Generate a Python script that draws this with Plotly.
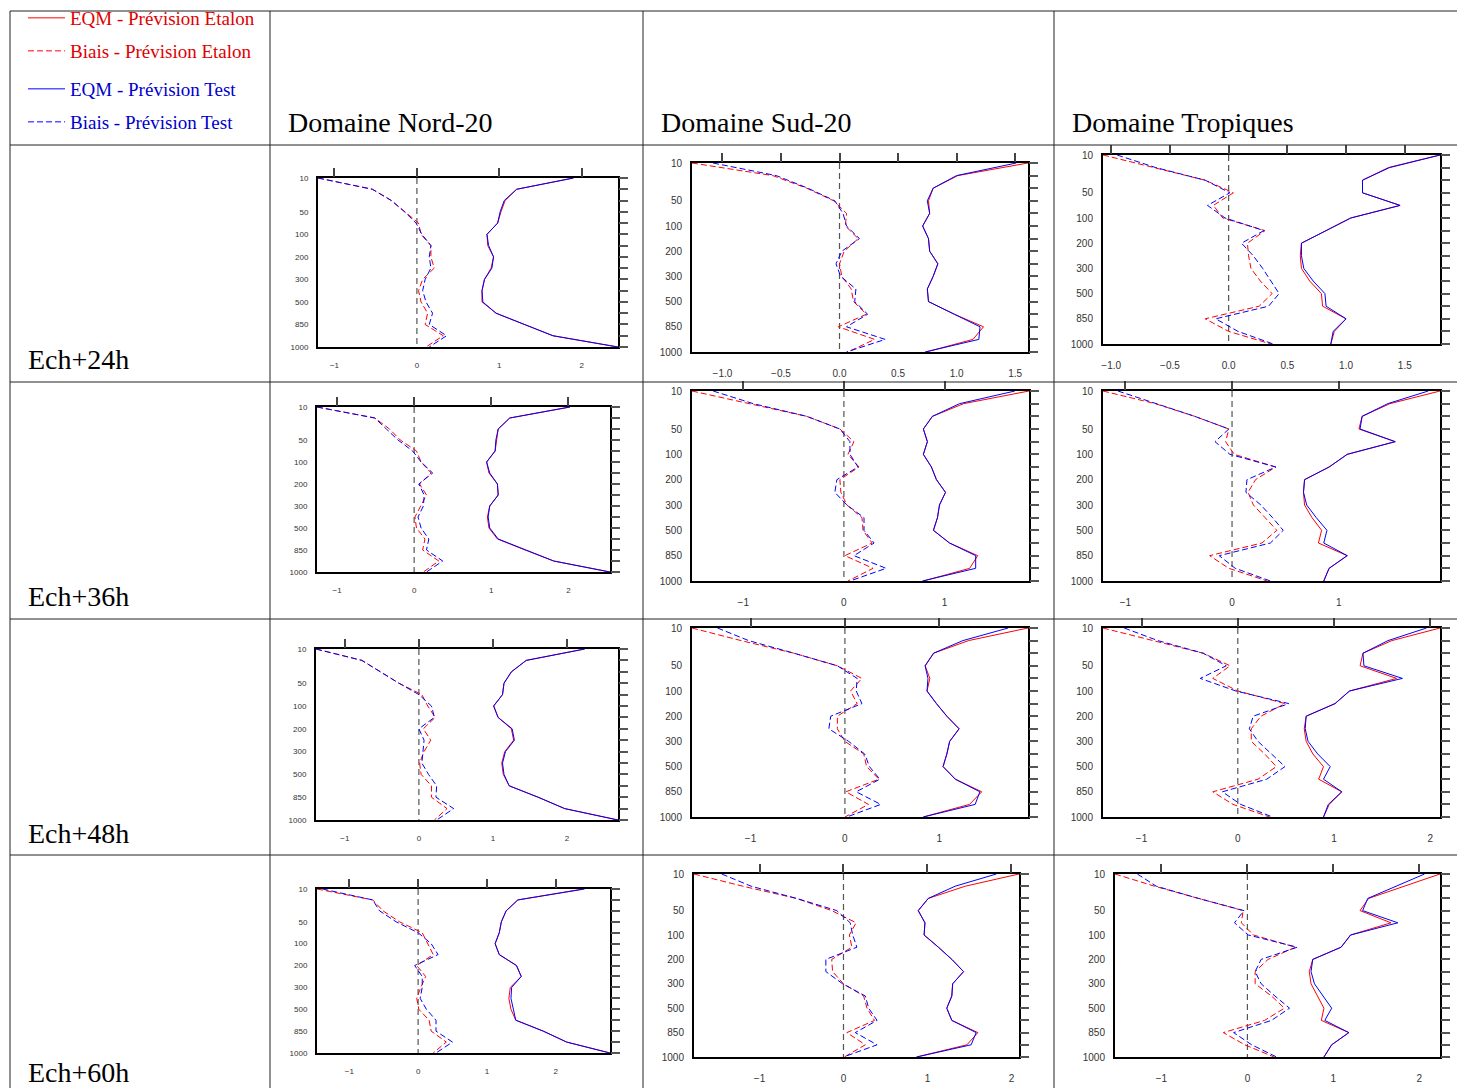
import math
import plotly.graph_objects as go

# ---------------- data ----------------
LEVELS = [10, 20, 30, 50, 70, 100, 150, 200, 250, 300, 400, 500, 700, 850, 925, 1000]
LABELED_LEVELS = [10, 50, 100, 200, 300, 500, 850, 1000]
DOMAINES = ["Domaine Nord-20", "Domaine Sud-20", "Domaine Tropiques"]
ECHEANCES = ["Ech+24h", "Ech+36h", "Ech+48h", "Ech+60h"]
SERIES = ["EQM - Prévision Etalon", "Biais - Prévision Etalon",
          "EQM - Prévision Test", "Biais - Prévision Test"]

# Nord-20, Ech+24h
NORD24_EQM_ETALON = [1.90, 1.21, 1.07, 1.02, 0.98, 0.85, 0.86, 0.93, 0.90, 0.82, 0.79, 0.79, 0.96, 1.31, 1.65, 2.44]
NORD24_EQM_TEST = [1.90, 1.21, 1.06, 1.01, 0.98, 0.85, 0.87, 0.93, 0.91, 0.82, 0.79, 0.80, 0.96, 1.31, 1.65, 2.44]
NORD24_BIAIS_ETALON = [-1.20, -0.54, -0.31, -0.15, 0.02, 0.05, 0.17, 0.17, 0.21, 0.07, 0.02, 0.05, 0.13, 0.10, 0.32, 0.11]
NORD24_BIAIS_TEST = [-1.20, -0.54, -0.31, -0.15, -0.01, 0.06, 0.17, 0.15, 0.17, 0.10, 0.07, 0.11, 0.19, 0.15, 0.36, 0.15]
# Sud-20, Ech+24h
SUD24_EQM_ETALON = [1.61, 1.01, 0.80, 0.76, 0.77, 0.71, 0.76, 0.77, 0.84, 0.80, 0.75, 0.76, 0.98, 1.23, 1.14, 0.74]
SUD24_EQM_TEST = [1.51, 1.00, 0.80, 0.75, 0.77, 0.71, 0.76, 0.77, 0.84, 0.80, 0.75, 0.76, 0.98, 1.20, 1.19, 0.73]
SUD24_BIAIS_ETALON = [-1.26, -0.57, -0.28, -0.05, 0.06, 0.05, 0.16, 0.04, 0.00, 0.02, 0.10, 0.12, 0.23, -0.01, 0.30, 0.07]
SUD24_BIAIS_TEST = [-1.08, -0.54, -0.27, -0.04, 0.03, 0.06, 0.17, 0.02, -0.03, 0.01, 0.14, 0.13, 0.24, 0.06, 0.39, 0.06]
# Tropiques, Ech+24h
TROP24_EQM_ETALON = [1.80, 1.36, 1.14, 1.14, 1.46, 1.04, 0.83, 0.62, 0.61, 0.62, 0.69, 0.79, 0.80, 1.00, 0.90, 0.87]
TROP24_EQM_TEST = [1.80, 1.37, 1.14, 1.14, 1.46, 1.04, 0.83, 0.62, 0.62, 0.64, 0.72, 0.82, 0.83, 1.00, 0.89, 0.87]
TROP24_BIAIS_ETALON = [-1.07, -0.64, -0.20, 0.04, -0.13, -0.05, 0.31, 0.16, 0.17, 0.19, 0.27, 0.37, 0.26, -0.20, 0.00, 0.36]
TROP24_BIAIS_TEST = [-0.95, -0.62, -0.20, 0.01, -0.18, -0.03, 0.30, 0.11, 0.21, 0.29, 0.36, 0.43, 0.34, -0.11, 0.08, 0.38]
# Nord-20, Ech+36h
NORD36_EQM_ETALON = [2.02, 1.24, 1.09, 1.07, 1.05, 0.94, 0.97, 1.08, 1.09, 0.98, 0.95, 0.97, 1.08, 1.44, 1.81, 2.54]
NORD36_EQM_TEST = [2.02, 1.24, 1.09, 1.06, 1.05, 0.94, 0.98, 1.08, 1.09, 0.98, 0.96, 0.98, 1.09, 1.44, 1.81, 2.54]
NORD36_BIAIS_ETALON = [-1.26, -0.51, -0.32, -0.18, 0.03, 0.09, 0.22, 0.07, 0.16, 0.09, 0.01, 0.03, 0.14, 0.11, 0.32, 0.12]
NORD36_BIAIS_TEST = [-1.26, -0.51, -0.36, -0.21, -0.02, 0.09, 0.24, 0.06, 0.13, 0.12, 0.05, 0.09, 0.19, 0.16, 0.37, 0.16]
# Sud-20, Ech+36h
SUD36_EQM_ETALON = [1.84, 1.19, 0.88, 0.79, 0.83, 0.79, 0.87, 0.92, 1.01, 0.95, 0.93, 0.89, 1.05, 1.33, 1.25, 0.79]
SUD36_EQM_TEST = [1.70, 1.15, 0.88, 0.79, 0.83, 0.79, 0.87, 0.92, 1.01, 0.95, 0.93, 0.89, 1.05, 1.31, 1.31, 0.78]
SUD36_BIAIS_ETALON = [-1.51, -0.95, -0.37, -0.04, 0.10, 0.04, 0.15, -0.04, -0.03, 0.03, 0.18, 0.19, 0.28, 0.01, 0.29, 0.04]
SUD36_BIAIS_TEST = [-1.30, -0.90, -0.37, -0.04, 0.06, 0.06, 0.14, -0.07, -0.09, 0.03, 0.20, 0.20, 0.30, 0.10, 0.42, 0.06]
# Tropiques, Ech+36h
TROP36_EQM_ETALON = [1.95, 1.48, 1.22, 1.19, 1.53, 1.08, 0.91, 0.68, 0.67, 0.68, 0.75, 0.84, 0.81, 1.08, 0.91, 0.86]
TROP36_EQM_TEST = [1.84, 1.46, 1.22, 1.20, 1.53, 1.08, 0.91, 0.68, 0.67, 0.70, 0.79, 0.89, 0.86, 1.08, 0.91, 0.86]
TROP36_BIAIS_ETALON = [-1.21, -0.72, -0.35, -0.03, -0.06, 0.02, 0.41, 0.22, 0.15, 0.20, 0.31, 0.42, 0.28, -0.21, -0.03, 0.33]
TROP36_BIAIS_TEST = [-1.07, -0.70, -0.35, -0.03, -0.16, -0.02, 0.41, 0.14, 0.13, 0.27, 0.38, 0.48, 0.36, -0.12, 0.03, 0.36]
# Nord-20, Ech+48h
NORD48_EQM_ETALON = [2.24, 1.45, 1.25, 1.15, 1.13, 1.01, 1.07, 1.25, 1.28, 1.16, 1.12, 1.14, 1.22, 1.61, 1.97, 2.69]
NORD48_EQM_TEST = [2.24, 1.45, 1.25, 1.15, 1.13, 1.01, 1.07, 1.26, 1.29, 1.17, 1.13, 1.15, 1.22, 1.61, 1.97, 2.69]
NORD48_BIAIS_ETALON = [-1.39, -0.77, -0.52, -0.27, 0.04, 0.12, 0.22, 0.06, 0.16, 0.07, 0.01, 0.03, 0.17, 0.17, 0.38, 0.21]
NORD48_BIAIS_TEST = [-1.39, -0.77, -0.52, -0.27, 0.00, 0.17, 0.21, 0.00, 0.07, 0.05, 0.04, 0.13, 0.24, 0.23, 0.47, 0.24]
# Sud-20, Ech+48h
SUD48_EQM_ETALON = [1.94, 1.31, 0.94, 0.85, 0.90, 0.87, 0.97, 1.08, 1.21, 1.11, 1.08, 1.04, 1.17, 1.45, 1.32, 0.83]
SUD48_EQM_TEST = [1.73, 1.25, 0.94, 0.85, 0.88, 0.87, 0.97, 1.08, 1.21, 1.11, 1.08, 1.04, 1.17, 1.43, 1.38, 0.83]
SUD48_BIAIS_ETALON = [-1.62, -1.10, -0.54, -0.08, 0.18, 0.06, 0.13, -0.08, -0.08, 0.00, 0.20, 0.23, 0.36, 0.01, 0.25, 0.00]
SUD48_BIAIS_TEST = [-1.35, -1.02, -0.54, -0.08, 0.13, 0.12, 0.18, -0.15, -0.17, 0.04, 0.21, 0.26, 0.37, 0.12, 0.38, 0.02]
# Tropiques, Ech+48h
TROP48_EQM_ETALON = [2.10, 1.60, 1.30, 1.27, 1.65, 1.16, 1.01, 0.71, 0.69, 0.71, 0.78, 0.89, 0.84, 1.08, 0.95, 0.89]
TROP48_EQM_TEST = [1.96, 1.56, 1.30, 1.31, 1.71, 1.16, 1.01, 0.71, 0.70, 0.73, 0.83, 0.96, 0.89, 1.08, 0.94, 0.89]
TROP48_BIAIS_ETALON = [-1.40, -0.87, -0.36, -0.08, -0.26, 0.00, 0.49, 0.24, 0.14, 0.14, 0.28, 0.40, 0.21, -0.26, -0.05, 0.33]
TROP48_BIAIS_TEST = [-1.18, -0.83, -0.36, -0.12, -0.39, -0.02, 0.53, 0.16, 0.12, 0.21, 0.35, 0.49, 0.30, -0.16, 0.03, 0.36]
# Nord-20, Ech+60h
NORD60_EQM_ETALON = [2.40, 1.45, 1.28, 1.21, 1.18, 1.12, 1.18, 1.43, 1.50, 1.34, 1.32, 1.35, 1.42, 1.82, 2.16, 2.79]
NORD60_EQM_TEST = [2.42, 1.45, 1.28, 1.21, 1.18, 1.12, 1.18, 1.43, 1.50, 1.36, 1.35, 1.38, 1.42, 1.82, 2.16, 2.79]
NORD60_BIAIS_ETALON = [-1.47, -0.66, -0.51, -0.27, 0.06, 0.14, 0.22, -0.02, 0.11, 0.04, -0.02, 0.01, 0.16, 0.19, 0.41, 0.22]
NORD60_BIAIS_TEST = [-1.39, -0.66, -0.56, -0.32, 0.00, 0.19, 0.29, -0.05, 0.06, 0.06, 0.03, 0.12, 0.26, 0.26, 0.50, 0.26]
# Sud-20, Ech+60h
SUD60_EQM_ETALON = [2.09, 1.45, 1.01, 0.89, 0.97, 0.96, 1.13, 1.29, 1.43, 1.30, 1.29, 1.23, 1.29, 1.60, 1.47, 0.87]
SUD60_EQM_TEST = [1.82, 1.33, 1.01, 0.89, 0.97, 0.96, 1.13, 1.29, 1.43, 1.30, 1.29, 1.23, 1.29, 1.58, 1.52, 0.87]
SUD60_BIAIS_ETALON = [-1.78, -1.20, -0.56, -0.14, 0.15, 0.07, 0.10, -0.14, -0.13, 0.00, 0.24, 0.28, 0.37, 0.04, 0.26, 0.01]
SUD60_BIAIS_TEST = [-1.45, -1.10, -0.56, -0.08, 0.08, 0.11, 0.16, -0.21, -0.21, -0.01, 0.26, 0.30, 0.40, 0.14, 0.40, 0.00]
# Tropiques, Ech+60h
TROP60_EQM_ETALON = [2.24, 1.83, 1.41, 1.31, 1.67, 1.20, 1.09, 0.76, 0.72, 0.74, 0.82, 0.89, 0.86, 1.18, 0.98, 0.89]
TROP60_EQM_TEST = [2.06, 1.73, 1.40, 1.34, 1.75, 1.20, 1.09, 0.76, 0.74, 0.78, 0.88, 0.98, 0.90, 1.18, 0.98, 0.89]
TROP60_BIAIS_ETALON = [-1.54, -1.08, -0.57, -0.05, -0.07, 0.07, 0.56, 0.24, 0.09, 0.09, 0.28, 0.43, 0.20, -0.28, -0.03, 0.31]
TROP60_BIAIS_TEST = [-1.28, -1.06, -0.57, -0.04, -0.15, 0.01, 0.58, 0.16, 0.09, 0.16, 0.32, 0.49, 0.28, -0.16, 0.05, 0.34]

# x-axis tick step per panel (tick labels)
TICK_STEP = [1, 0.5, 0.5, 1, 1, 1, 1, 1, 1, 1, 1, 1]

PANEL_DATA = [
    (NORD24_EQM_ETALON, NORD24_BIAIS_ETALON, NORD24_EQM_TEST, NORD24_BIAIS_TEST),
    (SUD24_EQM_ETALON, SUD24_BIAIS_ETALON, SUD24_EQM_TEST, SUD24_BIAIS_TEST),
    (TROP24_EQM_ETALON, TROP24_BIAIS_ETALON, TROP24_EQM_TEST, TROP24_BIAIS_TEST),
    (NORD36_EQM_ETALON, NORD36_BIAIS_ETALON, NORD36_EQM_TEST, NORD36_BIAIS_TEST),
    (SUD36_EQM_ETALON, SUD36_BIAIS_ETALON, SUD36_EQM_TEST, SUD36_BIAIS_TEST),
    (TROP36_EQM_ETALON, TROP36_BIAIS_ETALON, TROP36_EQM_TEST, TROP36_BIAIS_TEST),
    (NORD48_EQM_ETALON, NORD48_BIAIS_ETALON, NORD48_EQM_TEST, NORD48_BIAIS_TEST),
    (SUD48_EQM_ETALON, SUD48_BIAIS_ETALON, SUD48_EQM_TEST, SUD48_BIAIS_TEST),
    (TROP48_EQM_ETALON, TROP48_BIAIS_ETALON, TROP48_EQM_TEST, TROP48_BIAIS_TEST),
    (NORD60_EQM_ETALON, NORD60_BIAIS_ETALON, NORD60_EQM_TEST, NORD60_BIAIS_TEST),
    (SUD60_EQM_ETALON, SUD60_BIAIS_ETALON, SUD60_EQM_TEST, SUD60_BIAIS_TEST),
    (TROP60_EQM_ETALON, TROP60_BIAIS_ETALON, TROP60_EQM_TEST, TROP60_BIAIS_TEST),
]

# ---------------- layout geometry (pixels) ----------------
W, H = 1457, 1088
PANEL_BOX = [  # x0, x1, y0(top), y1(bottom)
    (318, 618, 178, 347), (692, 1028, 163, 352), (1103, 1440, 155, 344),
    (317, 610, 407, 572), (692, 1029, 391, 581), (1103, 1440, 391, 581),
    (316, 618, 649, 820), (692, 1028, 628, 817), (1103, 1440, 628, 817),
    (317, 610, 889, 1053), (694, 1019, 874, 1057), (1115, 1440, 874, 1057),
]

RED, BLUE = "#ff0000", "#0000ff"
STYLES = [(RED, "solid"), (RED, "6px,3px"), (BLUE, "solid"), (BLUE, "6px,3px")]
LEGENDS = ["legend", "legend2", "legend3", "legend4"]
SANS = "Liberation Sans, Arial, sans-serif"
SERIF = "Liberation Serif, Times New Roman, serif"

fig = go.Figure()
layout = {}
y_idx = list(range(len(LEVELS)))
n_lev = len(LEVELS) - 1

for k, series in enumerate(PANEL_DATA):
    i = 2 * k + 1
    j = 2 * k + 2
    xr, yr = f"x{i}", f"y{i}"
    x0, x1, yt, yb = PANEL_BOX[k]
    allv = [v for s in series for v in s]
    lo, hi = min(allv), max(allv)
    nord = (k % 3 == 0)
    fs = 8 if nord else 10

    # invisible trace so the overlay (top / right) tick axes get drawn
    fig.add_trace(go.Scatter(x=[lo, hi], y=[0, n_lev], mode="lines",
                             line=dict(color="rgba(0,0,0,0)", width=0),
                             xaxis=f"x{j}", yaxis=f"y{j}", showlegend=False, hoverinfo="skip"))
    # zero reference line
    fig.add_trace(go.Scatter(x=[0, 0], y=[0, n_lev], mode="lines",
                             line=dict(color="#555555", width=1.2, dash="6px,4px"),
                             xaxis=xr, yaxis=yr, showlegend=False, hoverinfo="skip"))
    for s_i, vals in enumerate(series):
        col, dash = STYLES[s_i]
        fig.add_trace(go.Scatter(
            x=vals, y=y_idx, mode="lines", name=SERIES[s_i],
            line=dict(color=col, width=1, dash=dash),
            xaxis=xr, yaxis=yr, showlegend=(k == 0), legend=LEGENDS[s_i]))

    step = TICK_STEP[k]
    t0 = math.ceil(lo / step - 1e-9)
    t1 = math.floor(hi / step + 1e-9)
    tv = [round(n * step, 3) for n in range(t0, t1 + 1)]
    tt = [("%.1f" % v if step < 1 else "%d" % v).replace("-", "\u2212") for v in tv]

    xdom = [x0 / W, x1 / W]
    ydom = [1 - yb / H, 1 - yt / H]
    kx = "xaxis" if i == 1 else f"xaxis{i}"
    ky = "yaxis" if i == 1 else f"yaxis{i}"
    layout[kx] = dict(domain=xdom, range=[lo, hi], anchor=yr, showgrid=False, zeroline=False,
                      showline=True, mirror=True, linecolor="black", linewidth=2,
                      tickmode="array", tickvals=tv, ticktext=tt, ticks="outside",
                      ticklen=9 if nord else 11, tickcolor="rgba(0,0,0,0)",
                      tickfont=dict(family=SANS, size=fs, color="#333"))
    layout[f"xaxis{j}"] = dict(overlaying=xr, anchor=yr, side="top", range=[lo, hi],
                               showgrid=False, zeroline=False, showline=False,
                               tickmode="array", tickvals=tv, ticks="outside", ticklen=9,
                               tickwidth=1.5, tickcolor="#444", showticklabels=False)
    layout[ky] = dict(domain=ydom, range=[n_lev, 0], anchor=xr, showgrid=False,
                      zeroline=False, showline=True, mirror=True, linecolor="black", linewidth=2,
                      tickmode="array", tickvals=[LEVELS.index(l) for l in LABELED_LEVELS],
                      ticktext=[str(l) for l in LABELED_LEVELS], ticks="outside", ticklen=6,
                      tickcolor="rgba(0,0,0,0)", tickfont=dict(family=SANS, size=fs, color="#333"))
    layout[f"yaxis{j}"] = dict(overlaying=yr, anchor=xr, side="right",
                               range=[n_lev, 0], showgrid=False, zeroline=False,
                               showline=False, tickmode="array", tickvals=y_idx,
                               ticks="outside", ticklen=9, tickwidth=1.5, tickcolor="#555",
                               showticklabels=False)

# ---------------- table, headers, legend ----------------
shapes = []
for yy in [11, 145, 382, 619, 855]:
    shapes.append(dict(type="line", xref="paper", yref="paper", x0=10 / W, x1=1.0,
                       y0=1 - yy / H, y1=1 - yy / H, line=dict(color="#222", width=1)))
for xx in [10, 270, 643, 1054]:
    shapes.append(dict(type="line", xref="paper", yref="paper", x0=xx / W, x1=xx / W,
                       y0=0, y1=1 - 11 / H, line=dict(color="#222", width=1)))

annotations = []
for c, (txt, xx) in enumerate(zip(DOMAINES, [286, 659, 1070])):
    annotations.append(dict(text=txt, x=xx / W, y=1 - 123 / H, xref="paper", yref="paper",
                            xanchor="left", yanchor="middle", showarrow=False,
                            font=dict(family=SERIF, size=28, color="black")))
for r, (txt, yy) in enumerate(zip(ECHEANCES, [360, 596, 833, 1072])):
    annotations.append(dict(text=txt, x=26 / W, y=1 - yy / H, xref="paper", yref="paper",
                            xanchor="left", yanchor="middle", showarrow=False,
                            font=dict(family=SERIF, size=28, color="black")))

leg_pos = [18, 51, 89, 122]
leg_col = ["#e00000", "#e00000", "#0000cc", "#0000cc"]
for n, name in enumerate(LEGENDS):
    layout[name] = dict(x=23 / W, y=1 - leg_pos[n] / H, xanchor="left", yanchor="middle",
                        bgcolor="rgba(0,0,0,0)", borderwidth=0, itemwidth=37,
                        font=dict(family=SERIF, size=19, color=leg_col[n]))

fig.update_layout(width=W, height=H,
                  margin=dict(l=0, r=0, t=0, b=0, autoexpand=False),
                  paper_bgcolor="white", plot_bgcolor="white",
                  shapes=shapes, annotations=annotations, **layout)
fig.write_html("out.html", config={"displayModeBar": False},
               post_script="document.body.style.margin='0px';document.body.style.overflow='hidden';")
